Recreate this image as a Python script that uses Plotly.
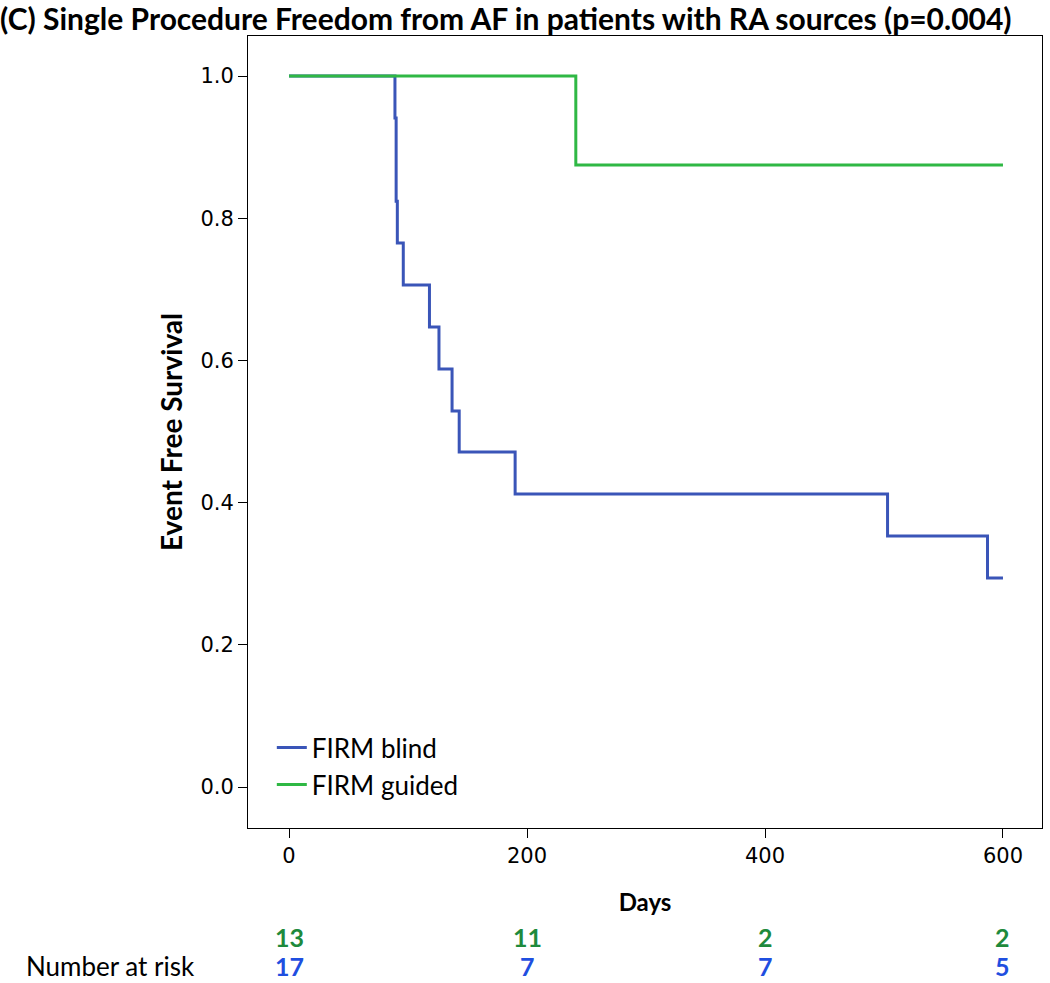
import plotly.graph_objects as go

# Kaplan-Meier step data (days, survival)
blind_days = [0, 89, 90, 91, 96, 118, 126, 137, 143, 190, 503, 587, 600]
blind_surv = [1.0, 0.941, 0.824, 0.765, 0.706, 0.647, 0.588, 0.529, 0.471, 0.412, 0.353, 0.294, 0.294]
guided_days = [0, 241, 600]
guided_surv = [1.0, 0.875, 0.875]

risk_times = [0, 200, 400, 600]
risk_guided = [13, 11, 2, 2]
risk_blind = [17, 7, 7, 5]

blue = "#3a55b8"
green = "#2fb844"
risk_green = "#1e8a3c"
risk_blue = "#1f4fe0"
cal = "Lato"

plot_top, plot_bot = 36, 828

fig = go.Figure()
fig.add_trace(go.Scatter(x=blind_days, y=blind_surv, mode="lines", line=dict(shape="hv", color=blue, width=3),
                         name="FIRM blind"))
fig.add_trace(go.Scatter(x=guided_days, y=guided_surv, mode="lines", line=dict(shape="hv", color=green, width=3),
                         name="FIRM guided"))


def py(pix):
    return (plot_bot - pix) / (plot_bot - plot_top)


for t, g, b in zip(risk_times, risk_guided, risk_blind):
    fig.add_annotation(x=t, y=py(937), xref="x", yref="paper", yanchor="middle", text=f"<b>{g}</b>",
                       showarrow=False, font=dict(family=cal, size=25, color=risk_green))
    fig.add_annotation(x=t, y=py(966), xref="x", yref="paper", yanchor="middle", text=f"<b>{b}</b>",
                       showarrow=False, font=dict(family=cal, size=25, color=risk_blue))

fig.add_annotation(x=0, y=py(966), xref="paper", yref="paper", yanchor="middle",
                   xanchor="left", text="Number at risk", showarrow=False, xshift=-224,
                   font=dict(family=cal, size=26, color="black"))

fig.update_layout(
    width=1050, height=983,
    margin=dict(l=248, r=8, t=plot_top, b=983 - plot_bot, autoexpand=False),
    plot_bgcolor="white", paper_bgcolor="white",
    title=dict(text="<b>(C) Single Procedure Freedom from AF in patients with RA sources (p=0.004)</b>",
               x=0, xref="container", xanchor="left", y=1 - 19 / 983, yref="container", yanchor="middle",
               font=dict(family=cal, size=30, color="black")),
    showlegend=True,
    legend=dict(x=0.03, y=0.025, xanchor="left", yanchor="bottom", bgcolor="rgba(0,0,0,0)",
                font=dict(family=cal, size=26, color="black"), itemwidth=30, tracegroupgap=0),
    xaxis=dict(range=[-34.5, 632.8], tickvals=[0, 200, 400, 600], showgrid=False, zeroline=False,
               automargin=False,
               showline=True, linecolor="black", linewidth=1, mirror=True,
               ticks="outside", ticklen=9, tickcolor="black",
               tickfont=dict(family="DejaVu Sans", size=21, color="black"),
               title=dict(text="<b>Days</b>", font=dict(family=cal, size=24, color="black"), standoff=26)),
    yaxis=dict(range=[(787 - plot_bot) / 711, (787 - plot_top) / 711],
               tickvals=[0, 0.2, 0.4, 0.6, 0.8, 1.0], tickformat=".1f",
               showgrid=False, zeroline=False, automargin=False,
               showline=True, linecolor="black", linewidth=1, mirror=True,
               ticks="outside", ticklen=9, tickcolor="black",
               tickfont=dict(family="DejaVu Sans", size=21, color="black"),
               title=dict(text="<b>Event Free Survival</b>", font=dict(family=cal, size=28, color="black"),
                          standoff=9)),
)

fig.write_html("out.html", config={"displayModeBar": False},
               post_script="document.body.style.margin='0';")
